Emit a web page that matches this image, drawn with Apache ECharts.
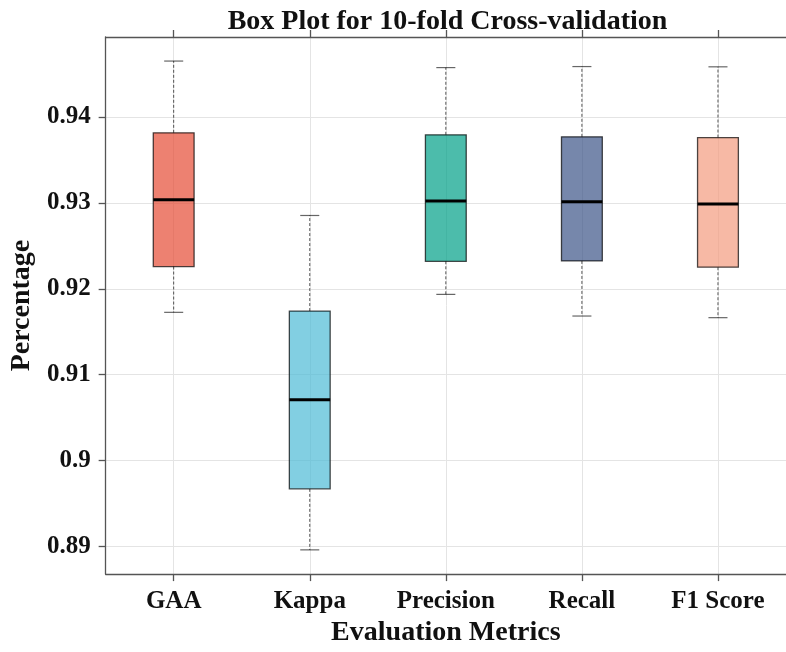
<!DOCTYPE html>
<html>
<head>
<meta charset="utf-8">
<script src="https://cdn.jsdelivr.net/npm/echarts@6/dist/echarts.min.js"></script>
<style>
  html, body { margin: 0; padding: 0; background: #fff; }
  #chart { width: 786px; height: 652px; }
</style>
</head>
<body>
<div id="chart"></div>
<script>
// Five-number summaries of the 10-fold cross-validation scores
const categories   = ['GAA', 'Kappa', 'Precision', 'Recall', 'F1 Score'];
const lowerWhisker = [0.91726, 0.88962, 0.91935, 0.91683, 0.91664];
const q1           = [0.92259, 0.89672, 0.92320, 0.92324, 0.92251];
const median       = [0.93035, 0.90710, 0.93023, 0.93012, 0.92988];
const q3           = [0.93815, 0.91741, 0.93792, 0.93768, 0.93760];
const upperWhisker = [0.94650, 0.92853, 0.94574, 0.94586, 0.94583];
const yTicks       = [0.89, 0.90, 0.91, 0.92, 0.93, 0.94];

const boxColors = ['#E64B35', '#4DBBD5', '#00A087', '#3C5488', '#F39B7F'];
const FONT = '"Liberation Serif", "Times New Roman", serif';

const seriesData = categories.map((c, i) =>
  [i, lowerWhisker[i], q1[i], median[i], q3[i], upperWhisker[i]]);

function renderBox(params, api) {
  const idx = api.value(0);
  const band = api.size([1, 0])[0];
  const boxW = band * 0.30;
  const capW = band * 0.14;
  const pLo  = api.coord([idx, api.value(1)]);
  const pQ1  = api.coord([idx, api.value(2)]);
  const pMed = api.coord([idx, api.value(3)]);
  const pQ3  = api.coord([idx, api.value(4)]);
  const pHi  = api.coord([idx, api.value(5)]);
  const x = pQ1[0];
  const whiskerStyle = { stroke: 'rgba(0,0,0,0.65)', lineWidth: 1, lineDash: [3, 2], fill: null };
  const capStyle = { stroke: 'rgba(0,0,0,0.6)', lineWidth: 1.2, fill: null };
  return {
    type: 'group',
    children: [
      { type: 'line', shape: { x1: x, y1: pQ3[1], x2: x, y2: pHi[1] }, style: whiskerStyle },
      { type: 'line', shape: { x1: x, y1: pQ1[1], x2: x, y2: pLo[1] }, style: whiskerStyle },
      { type: 'line', shape: { x1: x - capW / 2, y1: pHi[1], x2: x + capW / 2, y2: pHi[1] }, style: capStyle },
      { type: 'line', shape: { x1: x - capW / 2, y1: pLo[1], x2: x + capW / 2, y2: pLo[1] }, style: capStyle },
      {
        type: 'rect',
        shape: { x: x - boxW / 2, y: pQ3[1], width: boxW, height: pQ1[1] - pQ3[1] },
        style: { fill: boxColors[idx], opacity: 0.7, stroke: '#000', lineWidth: 1.3 }
      },
      { type: 'line', shape: { x1: x - boxW / 2, y1: pMed[1], x2: x + boxW / 2, y2: pMed[1] },
        style: { stroke: '#000', lineWidth: 3 } }
    ]
  };
}

const chart = echarts.init(document.getElementById('chart'));
const axisLineStyle = { color: '#555', width: 1.3 };
const gridLineStyle = { color: '#e4e4e4', width: 1 };

chart.setOption({
  backgroundColor: '#fff',
  animation: false,
  textStyle: { fontFamily: FONT },
  grid: { left: 104, top: 37, width: 687, height: 540, containLabel: false },
  graphic: [{
    type: 'text',
    x: 447.5, y: 22,
    style: {
      text: 'Box Plot for 10-fold Cross-validation',
      font: 'bold 28px ' + FONT,
      fill: '#111',
      textAlign: 'center',
      textVerticalAlign: 'middle'
    }
  }],
  xAxis: [{
    type: 'category',
    data: categories,
    position: 'bottom',
    boundaryGap: true,
    name: 'Evaluation Metrics',
    nameLocation: 'middle',
    nameGap: 44,
    nameTextStyle: { fontFamily: FONT, fontWeight: 'bold', fontSize: 28, color: '#111' },
    axisLine: { onZero: false, lineStyle: axisLineStyle },
    axisTick: { show: true, alignWithLabel: true, inside: false, length: 7, lineStyle: axisLineStyle },
    axisLabel: { fontFamily: FONT, fontWeight: 'bold', fontSize: 25, color: '#111', margin: 15 },
    splitLine: { show: false }
  }, {
    type: 'category',
    data: categories,
    position: 'top',
    boundaryGap: true,
    axisLine: { onZero: false, lineStyle: axisLineStyle },
    axisTick: { show: true, alignWithLabel: true, inside: false, length: 7, lineStyle: axisLineStyle },
    axisLabel: { show: false },
    splitLine: { show: false }
  }, {
    // hidden index axis: vertical grid lines through each category centre
    type: 'value',
    position: 'bottom',
    min: -0.5,
    max: 4.5,
    minInterval: 1,
    maxInterval: 1,
    axisLine: { show: false, onZero: false },
    axisTick: { show: false },
    axisLabel: { show: false },
    splitLine: { show: true, lineStyle: gridLineStyle }
  }],
  yAxis: {
    type: 'value',
    min: 0.8868,
    max: 0.9493,
    minInterval: 0.01,
    maxInterval: 0.01,
    name: 'Percentage',
    nameLocation: 'middle',
    nameGap: 59,
    nameTextStyle: { fontFamily: FONT, fontWeight: 'bold', fontSize: 28, color: '#111' },
    axisLine: { show: true, onZero: false, lineStyle: axisLineStyle },
    axisTick: { show: true, inside: false, length: 7, lineStyle: axisLineStyle, customValues: yTicks },
    axisLabel: {
      fontFamily: FONT, fontWeight: 'bold', fontSize: 25, color: '#111', margin: 15,
      customValues: yTicks,
      formatter: v => String(+v.toFixed(2))
    },
    splitLine: { show: true, lineStyle: gridLineStyle }
  },
  series: [{
    type: 'custom',
    xAxisIndex: 0,
    renderItem: renderBox,
    encode: { x: 0, y: [1, 2, 3, 4, 5] },
    data: seriesData,
    z: 5
  }]
});
</script>
</body>
</html>
